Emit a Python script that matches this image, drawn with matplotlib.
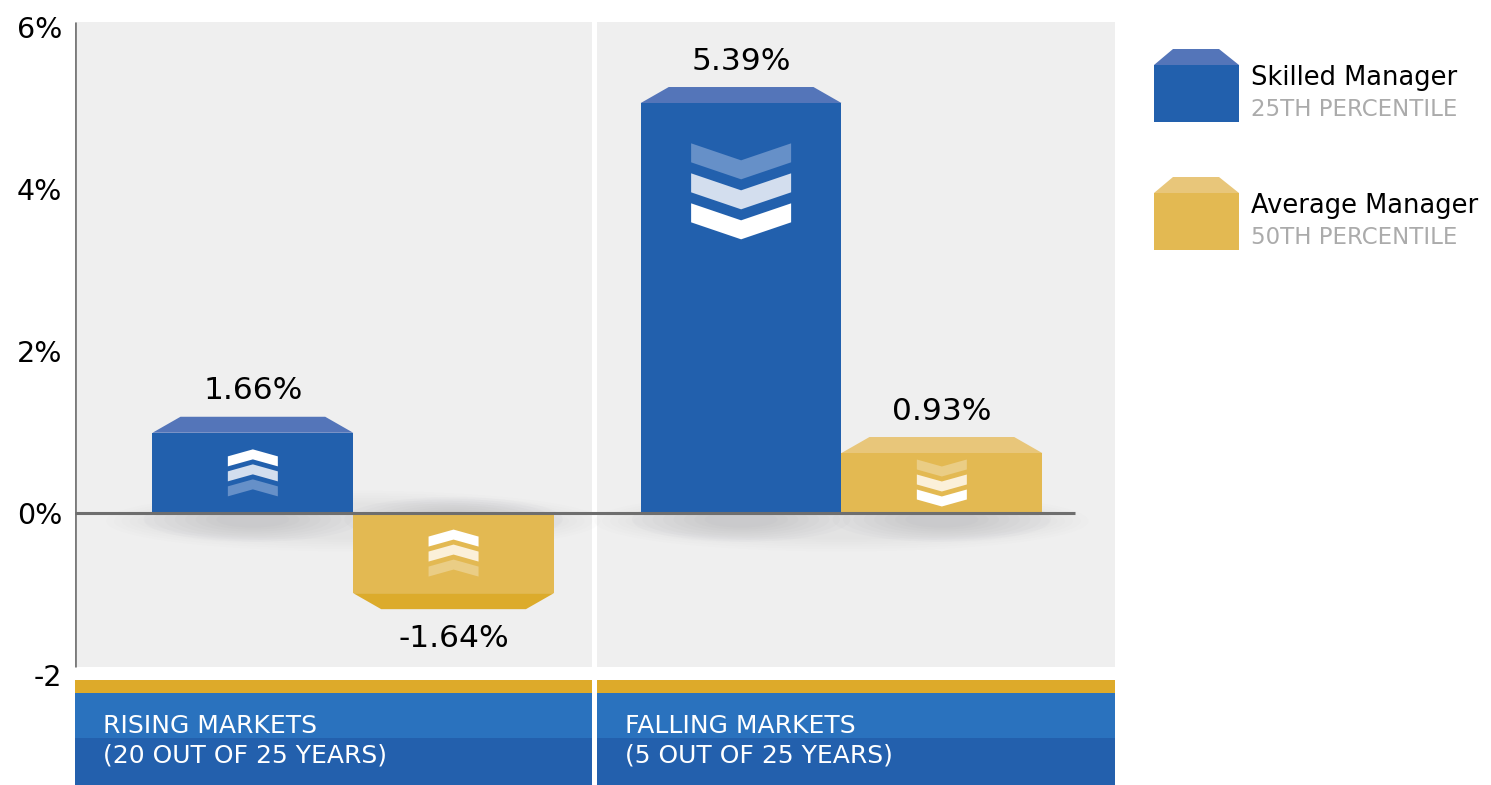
import matplotlib
matplotlib.use("Agg")
import matplotlib.pyplot as plt
from matplotlib.patches import Polygon, Rectangle, Ellipse

#---Data---
markets = ["RISING MARKETS\n(20 OUT OF 25 YEARS)", "FALLING MARKETS\n(5 OUT OF 25 YEARS)"]
managers = ["Skilled Manager", "Average Manager"]
percentiles = ["25TH PERCENTILE", "50TH PERCENTILE"]
skilled_labels = ["1.66%", "5.39%"]
average_labels = ["-1.64%", "0.93%"]
# bar heights as drawn in the picture (front face, % axis)
skilled_heights = [0.99, 5.06]
average_heights = [-0.99, 0.74]
yticks = [6, 4, 2, 0, -2]
ytick_labels = ["6%", "4%", "2%", "0%", "-2"]

#---Styles---
BLUE = "#2260AD"
BLUE_TOP = "#5475B9"
GOLD = "#E3B952"
GOLD_TOP = "#E8C67A"
GOLD_BOT = "#DCAB2B"
BG = "#EFEFEF"
blue_chev = ["white", "#D3DEEE", "#6690C8"]
gold_chev = ["white", "#FBF0D9", "#EACD85"]

W, H = 1491, 785
fig = plt.figure(figsize=(W / 100, H / 100), dpi=100)
fig.patch.set_facecolor("white")

ax = fig.add_axes([75 / W, (H - 675) / H, 1040 / W, 653 / H])
ax.set_xlim(0, 2)
ax.set_ylim(-2, 6.06)
ax.set_facecolor("none")
for s in ax.spines.values():
    s.set_visible(False)

# px -> data units
SX = 2 / 1040
SY = 8.06 / 653

# gray panels
ax.add_patch(Rectangle((0, -1.9), 0.994, 7.96, color=BG, zorder=0, lw=0))
ax.add_patch(Rectangle((1.004, -1.9), 0.996, 7.96, color=BG, zorder=0, lw=0))
ax.plot([0, 0], [-1.9, 6.06], color="#7a7a7a", lw=2, zorder=3, solid_capstyle="butt")
ax.plot([0, 1.923], [0, 0], color="#6e6e6e", lw=2.2, zorder=5, solid_capstyle="butt")

group_x = [0.535, 1.474]
bw = 0.386
bx_skilled = [g - bw / 2 for g in group_x]
bx_average = [g + bw / 2 for g in group_x]

# soft shadows
for g in group_x:
    for k in range(6):
        ax.add_patch(Ellipse((g, -0.1), 0.95 - k * 0.03, 0.75 - k * 0.06,
                             color="#9a9aa6", alpha=0.025, lw=0, zorder=1))
for xc in bx_skilled + bx_average:
    for k in range(8):
        ax.add_patch(Ellipse((xc, -0.08), 0.42 - k * 0.04, 0.55 - k * 0.05,
                             color="#8a8a98", alpha=0.035, lw=0, zorder=1))

ax.bar(bx_skilled, skilled_heights, bw, color=BLUE, zorder=4, lw=0)
ax.bar(bx_average, average_heights, bw, color=GOLD, zorder=4, lw=0)

inset = 28 * SX
bev = 16 * SY


def bevel(xc, h, color):
    x0, x1 = xc - bw / 2, xc + bw / 2
    s = 1 if h >= 0 else -1
    pts = [(x0, h), (x0 + inset, h + s * bev), (x1 - inset, h + s * bev), (x1, h)]
    ax.add_patch(Polygon(pts, closed=True, color=color, lw=0, zorder=4))
    return h + s * bev


def chevrons(cx, cy, w, t, d, gap, up, colors):
    total = 2 * gap + t + d
    for i, c in enumerate(colors):
        if up:
            b = total / 2 - (t + d) - i * gap
            pts = [(-w / 2, b), (-w / 2, b + t), (0, b + t + d), (w / 2, b + t), (w / 2, b), (0, b + d)]
        else:
            b = -total / 2 + (t + d) + i * gap
            pts = [(-w / 2, b), (-w / 2, b - t), (0, b - t - d), (w / 2, b - t), (w / 2, b), (0, b - d)]
        pts = [(cx + px * SX, cy + py * SY) for px, py in pts]
        ax.add_patch(Polygon(pts, closed=True, color=c, lw=0, zorder=6))


def label(xc, edge, text):
    y = edge + 0.32 if edge >= 0 else edge - 0.36
    ax.text(xc, y, text, ha="center", va="center", fontsize=22.5, color="black", zorder=7)


for i in range(2):
    # skilled
    h = skilled_heights[i]
    edge = bevel(bx_skilled[i], h, BLUE_TOP)
    label(bx_skilled[i], edge, skilled_labels[i])
    if h > 2:
        chevrons(bx_skilled[i], h - 1.09, 100, 19, 17, 30, False, blue_chev)
    else:
        chevrons(bx_skilled[i], h / 2, 50, 10, 7, 15, True, blue_chev)
    # average
    h = average_heights[i]
    edge = bevel(bx_average[i], h, GOLD_TOP if h >= 0 else GOLD_BOT)
    label(bx_average[i], edge, average_labels[i])
    chevrons(bx_average[i], h / 2, 50, 10, 7, 15, h < 0, gold_chev)

ax.set_xticks([])
ax.set_yticks(yticks)
ax.set_yticklabels(ytick_labels, fontsize=20.5)
ax.tick_params(axis="y", length=0, pad=9)

#---Overlay in pixel coords: legend and market bands---
ov = fig.add_axes([0, 0, 1, 1])
ov.set_xlim(0, W)
ov.set_ylim(H, 0)
ov.axis("off")
ov.set_facecolor("none")

fronts = [BLUE, GOLD]
tops = [BLUE_TOP, GOLD_TOP]
for i, ty in enumerate([49, 177]):
    ov.add_patch(Polygon([(1154, ty + 16), (1173, ty), (1219, ty), (1239, ty + 16)],
                         closed=True, color=tops[i], lw=0))
    ov.add_patch(Rectangle((1154, ty + 16), 85, 57, color=fronts[i], lw=0))
    ov.text(1251, ty + 29, managers[i], fontsize=18.5, color="black", va="center", ha="left")
    ov.text(1251, ty + 61, percentiles[i], fontsize=16.5, color="#ABABAB", va="center", ha="left")

for (x0, x1), txt in zip([(75, 592), (597, 1115)], markets):
    ov.add_patch(Rectangle((x0, 680), x1 - x0, 13, color="#DDAA2A", lw=0))
    ov.add_patch(Rectangle((x0, 693), x1 - x0, 45, color="#2A72BE", lw=0))
    ov.add_patch(Rectangle((x0, 738), x1 - x0, 47, color="#2360AD", lw=0))
    l1, l2 = txt.split("\n")
    ov.text(x0 + 28, 726, l1, fontsize=18, color="white", va="center", ha="left")
    ov.text(x0 + 28, 756, l2, fontsize=18, color="white", va="center", ha="left")

fig.savefig("out.png", dpi=100)
